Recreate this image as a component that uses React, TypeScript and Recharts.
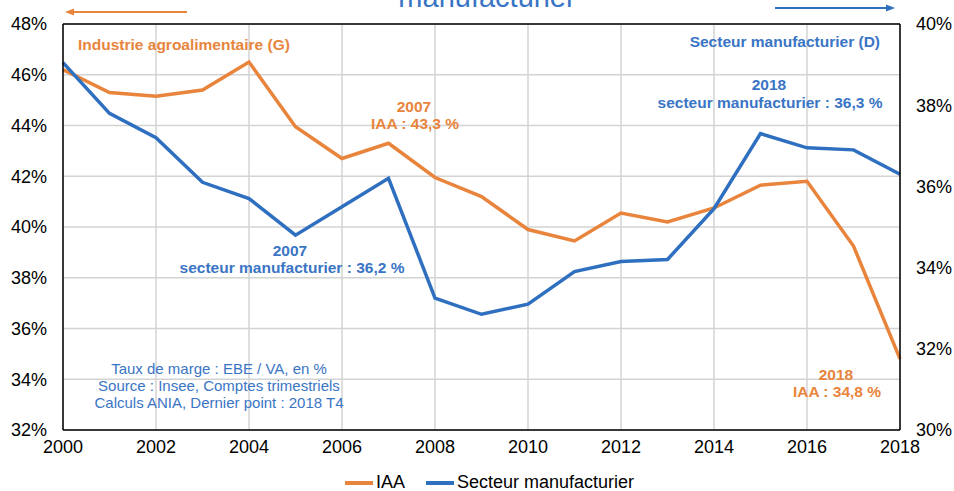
import React from "react";
import {
  LineChart,
  Line,
  XAxis,
  YAxis,
  CartesianGrid,
  ReferenceLine,
  Legend,
} from "recharts";

const FONT = '"Liberation Sans", Arial, Helvetica, sans-serif';
const ORANGE = "#E8843C";
const BLUE = "#2F6FC0";
const BLUE_TEXT = "#3A75C5";

const years = [
  2000, 2001, 2002, 2003, 2004, 2005, 2006, 2007, 2008, 2009, 2010, 2011, 2012,
  2013, 2014, 2015, 2016, 2017, 2018,
];
// taux de marge IAA (axe gauche)
const iaa = [
  46.2, 45.3, 45.15, 45.4, 46.5, 43.95, 42.7, 43.3, 41.95, 41.2, 39.9, 39.45,
  40.55, 40.2, 40.75, 41.65, 41.8, 39.25, 34.8,
];
// taux de marge secteur manufacturier (axe droit)
const manuf = [
  39.05, 37.8, 37.2, 36.1, 35.7, 34.8, 35.5, 36.2, 33.25, 32.85, 33.1, 33.9,
  34.15, 34.2, 35.45, 37.3, 36.95, 36.9, 36.3,
];
const xTicks = [2000, 2002, 2004, 2006, 2008, 2010, 2012, 2014, 2016, 2018];
const leftTicks = [32, 34, 36, 38, 40, 42, 44, 46, 48];
const rightTicks = [30, 32, 34, 36, 38, 40];

const data = years.map((year, i) => ({ year, iaa: iaa[i], manuf: manuf[i] }));

const pct = (v: number) => `${v}%`;

const renderLegend = (props: any) => {
  const { payload } = props;
  return (
    <div style={{ display: "flex", alignItems: "center", fontFamily: FONT, fontSize: 18, color: "#000" }}>
      {(payload || []).map((p: any, i: number) => (
        <div key={i} style={{ display: "flex", alignItems: "center", marginRight: 21 }}>
          <span style={{ display: "inline-block", width: 28, height: 4, background: p.color, marginRight: 3 }} />
          <span>{p.value}</span>
        </div>
      ))}
    </div>
  );
};

function Overlay() {
  const bold = { fontFamily: FONT, fontSize: 15.5, fontWeight: 700 } as const;
  const note = { fontFamily: FONT, fontSize: 15, fill: BLUE_TEXT } as const;
  return (
    <svg
      width={954}
      height={491}
      style={{ position: "absolute", left: 0, top: 0, pointerEvents: "none" }}
    >
      <text x={487} y={7} textAnchor="middle" fontFamily={FONT} fontSize={29} fill={BLUE_TEXT}>
        manufacturier
      </text>
      {/* flèches d'axes */}
      <line x1={187} y1={12} x2={72} y2={12} stroke={ORANGE} strokeWidth={2} />
      <polygon points="65,12 74,8.5 74,15.5" fill={ORANGE} />
      <line x1={775} y1={8} x2={888} y2={8} stroke={BLUE} strokeWidth={2} />
      <polygon points="895,8 886,4.5 886,11.5" fill={BLUE} />

      <text x={78} y={50} fill={ORANGE} {...bold}>Industrie agroalimentaire (G)</text>
      <text x={880} y={47} textAnchor="end" fill={BLUE_TEXT} {...bold}>Secteur manufacturier (D)</text>

      <text x={769} y={90} textAnchor="middle" fill={BLUE_TEXT} {...bold}>2018</text>
      <text x={770} y={108} textAnchor="middle" fill={BLUE_TEXT} {...bold}>secteur manufacturier : 36,3 %</text>

      <text x={414} y={112} textAnchor="middle" fill={ORANGE} {...bold}>2007</text>
      <text x={415} y={129} textAnchor="middle" fill={ORANGE} {...bold}>IAA : 43,3 %</text>

      <text x={290} y={256} textAnchor="middle" fill={BLUE_TEXT} {...bold}>2007</text>
      <text x={292} y={273} textAnchor="middle" fill={BLUE_TEXT} {...bold}>secteur manufacturier : 36,2 %</text>

      <text x={836} y={380} textAnchor="middle" fill={ORANGE} {...bold}>2018</text>
      <text x={837} y={397} textAnchor="middle" fill={ORANGE} {...bold}>IAA : 34,8 %</text>

      <text x={219} y={374} textAnchor="middle" {...note}>Taux de marge : EBE / VA,  en %</text>
      <text x={219} y={391} textAnchor="middle" {...note}>Source : Insee, Comptes trimestriels</text>
      <text x={219} y={408} textAnchor="middle" {...note}>Calculs ANIA,  Dernier point : 2018 T4</text>
    </svg>
  );
}

export default function App() {
  const tick = { fontSize: 18, fill: "#000", fontFamily: FONT };
  return (
    <div style={{ position: "absolute", left: 0, top: 0, width: 954, height: 491, background: "#fff" }}>
      <LineChart
        width={954}
        height={491}
        data={data}
        margin={{ top: 24, right: 0, left: 0, bottom: 0 }}
        style={{ fontFamily: FONT }}
      >
        <CartesianGrid yAxisId="left" stroke="#d3d3d3" strokeWidth={1.5} />
        <XAxis
          dataKey="year"
          type="number"
          domain={[2000, 2018]}
          ticks={xTicks}
          tick={tick}
          tickLine={false}
          tickSize={5}
          tickMargin={5}
          height={61}
          axisLine={{ stroke: "#000", strokeWidth: 1.5 }}
        />
        <YAxis
          yAxisId="left"
          domain={[32, 48]}
          ticks={leftTicks}
          tickFormatter={pct}
          tick={tick}
          tickLine={false}
          tickSize={8}
          tickMargin={8}
          width={63}
          axisLine={{ stroke: "#000", strokeWidth: 1.5 }}
        />
        <YAxis
          yAxisId="right"
          orientation="right"
          domain={[30, 40]}
          ticks={rightTicks}
          tickFormatter={pct}
          tick={{ ...tick, textAnchor: "start" }}
          tickLine={false}
          tickSize={8}
          tickMargin={8}
          width={54}
          axisLine={{ stroke: "#000", strokeWidth: 1.5 }}
        />
        <ReferenceLine yAxisId="left" y={48} stroke="#000" strokeWidth={1.5} />
        <Legend
          verticalAlign="middle"
          align="center"
          layout="horizontal"
          content={renderLegend}
          wrapperStyle={{ position: "absolute", left: 345, top: 472, width: 400 }}
        />
        <Line
          yAxisId="left"
          type="linear"
          dataKey="iaa"
          name="IAA"
          stroke={ORANGE}
          strokeWidth={3.5}
          dot={false}
          isAnimationActive={false}
        />
        <Line
          yAxisId="right"
          type="linear"
          dataKey="manuf"
          name="Secteur manufacturier"
          stroke={BLUE}
          strokeWidth={3.5}
          dot={false}
          isAnimationActive={false}
        />
      </LineChart>
      <Overlay />
    </div>
  );
}
